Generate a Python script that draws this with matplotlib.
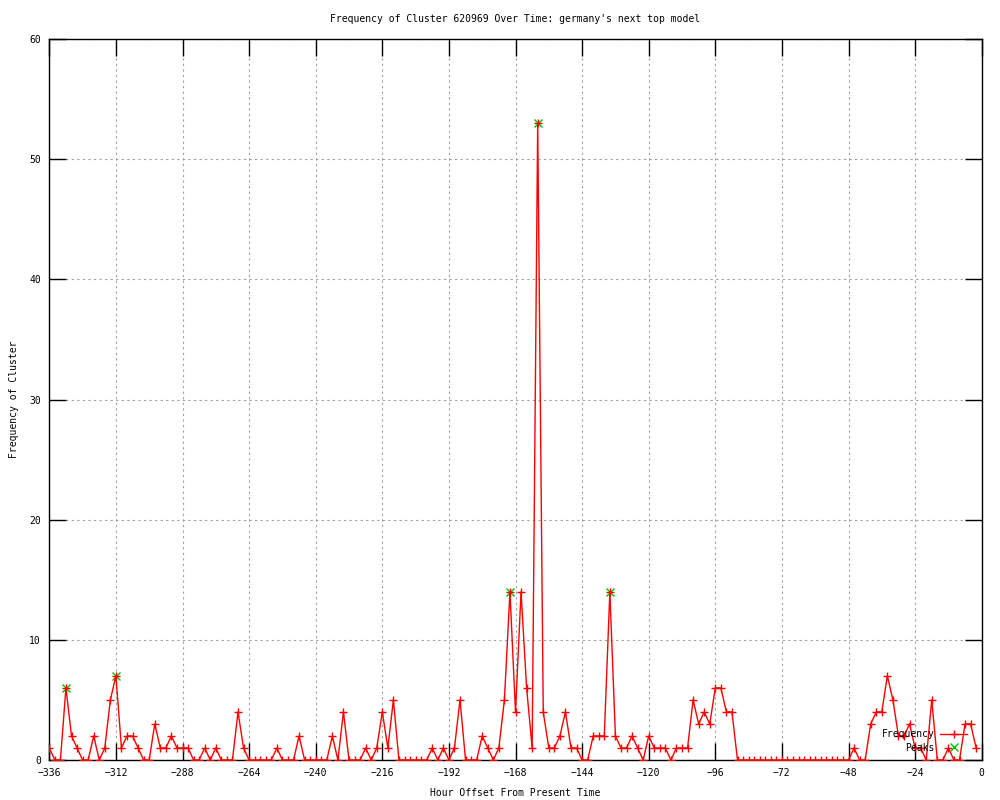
import matplotlib
matplotlib.use("Agg")
import matplotlib.pyplot as plt
import numpy as np

# Hour offsets (every 2 hours from -336 to -2)
hours = list(range(-336, 0, 2))

frequency = [
    1, 0, 0, 6, 2, 1, 0, 0, 2, 0, 1, 5, 7, 1, 2, 2, 1, 0, 0, 3,
    1, 1, 2, 1, 1, 1, 0, 0, 1, 0, 1, 0, 0, 0, 4, 1, 0, 0, 0, 0,
    0, 1, 0, 0, 0, 2, 0, 0, 0, 0, 0, 2, 0, 4, 0, 0, 0, 1, 0, 1,
    4, 1, 5, 0, 0, 0, 0, 0, 0, 1, 0, 1, 0, 1, 5, 0, 0, 0, 2, 1,
    0, 1, 5, 14, 4, 14, 6, 1, 53, 4, 1, 1, 2, 4, 1, 1, 0, 0, 2, 2,
    2, 14, 2, 1, 1, 2, 1, 0, 2, 1, 1, 1, 0, 1, 1, 1, 5, 3, 4, 3,
    6, 6, 4, 4, 0, 0, 0, 0, 0, 0, 0, 0, 0, 0, 0, 0, 0, 0, 0, 0,
    0, 0, 0, 0, 0, 1, 0, 0, 3, 4, 4, 7, 5, 2, 2, 3, 1, 1, 0, 5,
    0, 0, 1, 0, 0, 3, 3, 1,
]

peak_hours = [-330, -312, -170, -160, -134]
peak_values = [6, 7, 14, 53, 14]

title = "Frequency of Cluster 620969 Over Time: germany's next top model"
xlabel = "Hour Offset From Present Time"
ylabel = "Frequency of Cluster"
xticks = list(range(-336, 1, 24))
yticks = list(range(0, 61, 10))

plt.rcParams['font.family'] = ['DejaVu Sans Mono']
plt.rcParams['font.size'] = 7

fig = plt.figure(figsize=(10, 8), dpi=100)
ax = fig.add_axes([0.0493, 0.05, 0.9324, 0.90125])

ax.plot(peak_hours, peak_values, linestyle='none', marker='x', color='#00c000',
        markersize=6, markeredgewidth=1, label='Peaks', zorder=3)
ax.plot(hours, frequency, color='red', linewidth=1, marker='+', markersize=6,
        markeredgewidth=1, label='Frequency', zorder=4)

ax.set_xlim(-336, 0)
ax.set_ylim(0, 60)
ax.set_xticks(xticks)
ax.set_yticks(yticks)
ax.tick_params(direction='in', length=12, width=1, top=True, right=True,
               labelsize=7, pad=6, colors='black')
ax.grid(True, color='#a0a0a0', linestyle=(0, (2, 3)), linewidth=0.8)
ax.set_axisbelow(True)
for s in ax.spines.values():
    s.set_linewidth(1)
    s.set_color('black')

ax.set_title(title, fontsize=7, pad=12)
ax.set_xlabel(xlabel, fontsize=7, labelpad=7)
ax.set_ylabel(ylabel, fontsize=7, labelpad=7)

handles, labels = ax.get_legend_handles_labels()
order = [1, 0]
leg = ax.legend([handles[i] for i in order], [labels[i] for i in order],
                loc='upper right', bbox_to_anchor=(0.992, 0.052), frameon=False,
                markerfirst=False, numpoints=1, handlelength=2.8,
                handletextpad=0.6, labelspacing=0.35, borderpad=0.2,
                fontsize=7)

fig.savefig('out.png', dpi=100)
